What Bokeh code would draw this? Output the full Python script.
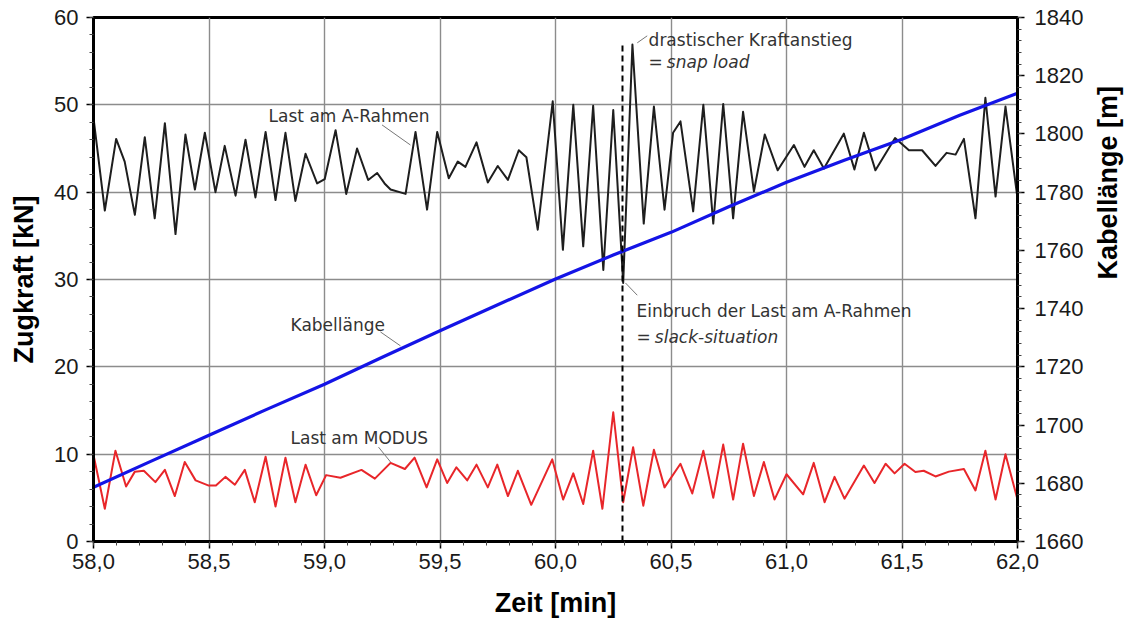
import math
from bokeh.plotting import figure
from bokeh.models import LinearAxis, Range1d, FixedTicker, CustomJSTickFormatter
from bokeh.core.properties import value
from bokeh.embed import file_html
from bokeh.resources import INLINE

# ---- data ----
kabel_t = [58.00, 58.25, 58.50, 58.75, 59.00, 59.25, 59.50, 59.75, 60.00,
           60.25, 60.50, 60.75, 61.00, 61.25, 61.50, 61.75, 62.00]
kabel_m = [1678.6, 1687.6, 1696.5, 1705.4, 1714.0, 1723.3, 1732.4, 1741.3, 1750.2,
           1758.4, 1766.2, 1775.0, 1783.4, 1791.0, 1798.2, 1806.4, 1814.0]

arahmen_t = [58.000, 58.049, 58.098, 58.135, 58.179, 58.222, 58.265, 58.309, 58.355,
             58.398, 58.439, 58.482, 58.528, 58.568, 58.615, 58.658, 58.701, 58.745,
             58.788, 58.831, 58.874, 58.918, 58.968, 59.001, 59.048, 59.094, 59.141,
             59.189, 59.228, 59.260, 59.286, 59.351, 59.394, 59.444, 59.488, 59.538,
             59.577, 59.610, 59.658, 59.707, 59.750, 59.794, 59.841, 59.874, 59.923,
             59.988, 60.032, 60.077, 60.120, 60.163, 60.207, 60.250, 60.293, 60.333,
             60.382, 60.426, 60.472, 60.509, 60.541, 60.596, 60.640, 60.683, 60.726,
             60.769, 60.812, 60.859, 60.906, 60.962, 61.032, 61.078, 61.118, 61.162,
             61.248, 61.294, 61.335, 61.385, 61.470, 61.530, 61.587, 61.645, 61.693,
             61.732, 61.768, 61.818, 61.861, 61.905, 61.948, 62.000]
arahmen_kn = [48.5, 37.9, 46.1, 43.5, 37.4, 46.3, 37.0, 47.9, 35.2,
              46.6, 40.3, 46.8, 40.0, 45.3, 39.6, 46.0, 39.4, 46.9,
              39.1, 46.8, 39.0, 44.4, 41.0, 41.5, 47.1, 39.8, 45.0,
              41.4, 42.2, 41.0, 40.3, 39.8, 46.9, 38.0, 46.9, 41.6,
              43.5, 42.9, 45.7, 41.1, 43.0, 41.4, 44.8, 44.0, 35.7,
              50.4, 33.4, 50.0, 33.8, 49.9, 31.1, 49.4, 29.6, 56.9,
              36.4, 49.8, 38.0, 46.8, 48.1, 37.8, 50.0, 36.4, 50.1,
              37.0, 49.2, 40.1, 46.6, 42.5, 45.4, 42.9, 44.8, 42.7,
              46.7, 42.6, 46.8, 42.5, 46.2, 44.8, 44.8, 43.0, 44.5,
              44.3, 46.1, 37.0, 50.8, 39.5, 49.8, 39.3]

modus_t = [58.000, 58.049, 58.095, 58.141, 58.179, 58.218, 58.268, 58.309, 58.352,
           58.395, 58.442, 58.499, 58.530, 58.571, 58.612, 58.655, 58.698, 58.745,
           58.788, 58.831, 58.874, 58.918, 58.964, 59.007, 59.069, 59.160, 59.218,
           59.286, 59.348, 59.390, 59.442, 59.488, 59.531, 59.571, 59.618, 59.658,
           59.707, 59.748, 59.794, 59.837, 59.895, 59.986, 60.033, 60.077, 60.120,
           60.163, 60.203, 60.250, 60.293, 60.336, 60.380, 60.426, 60.472, 60.541,
           60.592, 60.640, 60.683, 60.726, 60.769, 60.812, 60.859, 60.902, 60.948,
           61.000, 61.072, 61.118, 61.165, 61.208, 61.251, 61.335, 61.381, 61.429,
           61.468, 61.511, 61.558, 61.594, 61.645, 61.703, 61.768, 61.818, 61.861,
           61.905, 61.948, 62.000]
modus_kn = [9.9, 3.75, 10.4, 6.3, 8.0, 8.1, 6.8, 8.2, 5.2,
            9.1, 7.0, 6.4, 6.4, 7.4, 6.5, 8.2, 4.5, 9.7,
            4.0, 9.6, 4.5, 8.8, 5.3, 7.6, 7.3, 8.2, 7.2,
            9.0, 8.3, 9.6, 6.2, 9.4, 6.7, 8.5, 7.0, 8.8,
            6.2, 8.8, 5.2, 8.1, 4.2, 9.4, 4.8, 7.8, 4.3,
            10.4, 3.75, 14.8, 4.5, 10.8, 4.1, 10.5, 6.2, 8.9,
            5.5, 10.4, 5.0, 11.1, 4.8, 11.2, 5.2, 9.1, 4.8,
            7.7, 5.4, 9.0, 4.5, 7.4, 4.9, 8.7, 6.7, 8.9,
            7.8, 8.9, 7.95, 8.1, 7.45, 8.0, 8.3, 5.85, 10.4,
            4.8, 10.0, 4.8]

snap_time = 60.29

x_ticks = [58.0, 58.5, 59.0, 59.5, 60.0, 60.5, 61.0, 61.5, 62.0]
y_ticks = [0, 10, 20, 30, 40, 50, 60]
y2_ticks = [1660, 1680, 1700, 1720, 1740, 1760, 1780, 1800, 1820, 1840]

# ---- figure ----
p = figure(width=1141, height=625, output_backend="svg", toolbar_location=None,
           x_range=Range1d(58, 62), y_range=Range1d(0, 60),
           min_border_left=93, min_border_right=124, min_border_top=17,
           min_border_bottom=84)
p.extra_y_ranges = {"kabel": Range1d(1660, 1840)}
p.background_fill_color = "white"
p.border_fill_color = "white"
p.outline_line_color = "black"
p.outline_line_width = 3

tick_font = "Liberation Sans"

p.xaxis.ticker = FixedTicker(ticks=x_ticks,
                             minor_ticks=[58 + i * 0.1 for i in range(41)])
p.xaxis.formatter = CustomJSTickFormatter(code="return tick.toFixed(1).replace('.', ',');")
p.yaxis[0].ticker = FixedTicker(ticks=y_ticks, minor_ticks=list(range(0, 61, 2)))

right = LinearAxis(y_range_name="kabel",
                   ticker=FixedTicker(ticks=y2_ticks, minor_ticks=list(range(1660, 1841, 4))))
p.add_layout(right, "right")

p.xaxis[0].axis_label = "Zeit [min]"
p.yaxis[0].axis_label = "Zugkraft [kN]"
right.axis_label = "Kabellänge [m]"
right.axis_label_orientation = math.pi / 2

for ax in [p.xaxis[0], p.yaxis[0], right]:
    ax.axis_line_color = "black"
    ax.axis_line_width = 3
    ax.major_tick_line_color = "black"
    ax.major_tick_line_width = 1.5
    ax.minor_tick_line_color = "#444444"
    ax.minor_tick_line_width = 1
    ax.major_tick_in = 0
    ax.major_tick_out = 7
    ax.minor_tick_in = 0
    ax.minor_tick_out = 4
    ax.major_label_text_font = tick_font
    ax.major_label_text_font_size = "22px"
    ax.major_label_text_color = "#1a1a1a"
    ax.axis_label_text_font = tick_font
    ax.axis_label_text_font_style = "bold"
    ax.axis_label_text_font_size = "27px"
    ax.axis_label_text_color = "black"

p.xaxis.major_label_standoff = 5
p.xaxis.axis_label_standoff = 16
p.yaxis[0].major_label_standoff = 8
p.yaxis[0].axis_label_standoff = 12
right.major_label_standoff = 10
right.axis_label_standoff = 22

p.xgrid.ticker = FixedTicker(ticks=x_ticks)
p.ygrid.ticker = FixedTicker(ticks=y_ticks)
p.grid.grid_line_color = "#8c8c8c"
p.grid.grid_line_width = 1.4

# ---- data lines ----
p.line(arahmen_t, arahmen_kn, line_color="#1e1e1e", line_width=2, line_join="round")
p.line(modus_t, modus_kn, line_color="#e8262a", line_width=2, line_join="round")
p.line(kabel_t, kabel_m, y_range_name="kabel", line_color="#1414e6", line_width=3.2,
       line_join="round")

# dashed marker of the event
p.segment(x0=[snap_time], y0=[0], x1=[snap_time], y1=[57.2], line_color="black",
          line_width=2, line_dash="6 4")

# ---- annotations ----
ann_font = value("DejaVu Sans")
ann_color = "#333333"
lead_color = "#777777"
ann_size = "17px"

ann_x = [58.758, 58.853, 58.853, 60.403, 60.351]
ann_y = [48.7, 24.8, 11.9, 57.45, 26.4]
ann_txt = ["Last am A-Rahmen", "Kabellänge", "Last am MODUS",
           "drastischer Kraftanstieg", "Einbruch der Last am A-Rahmen"]
p.text(x=ann_x, y=ann_y, text=ann_txt, text_font=ann_font, text_font_size=ann_size,
       text_color=ann_color, text_baseline="middle", text_align="left")

eq_x = [60.403, 60.351]
eq_y = [54.9, 23.4]
p.text(x=eq_x, y=eq_y, text=["=", "="], text_font=ann_font, text_font_size=ann_size,
       text_color=ann_color, text_baseline="middle", text_align="left")
it_x = [60.482, 60.430]
p.text(x=it_x, y=eq_y, text=["snap load", "slack-situation"], text_font=ann_font,
       text_font_size=ann_size, text_font_style="italic", text_color=ann_color,
       text_baseline="middle", text_align="left")

lead_x0 = [59.249, 59.242, 59.234, 60.354, 60.303]
lead_y0 = [47.7, 24.0, 10.8, 57.1, 29.6]
lead_x1 = [59.372, 59.329, 59.286, 60.397, 60.354]
lead_y1 = [45.4, 22.4, 9.1, 57.9, 28.2]
p.segment(x0=lead_x0, y0=lead_y0, x1=lead_x1, y1=lead_y1, line_color=lead_color,
          line_width=1)

open("out.html", "w").write(file_html(p, INLINE))
